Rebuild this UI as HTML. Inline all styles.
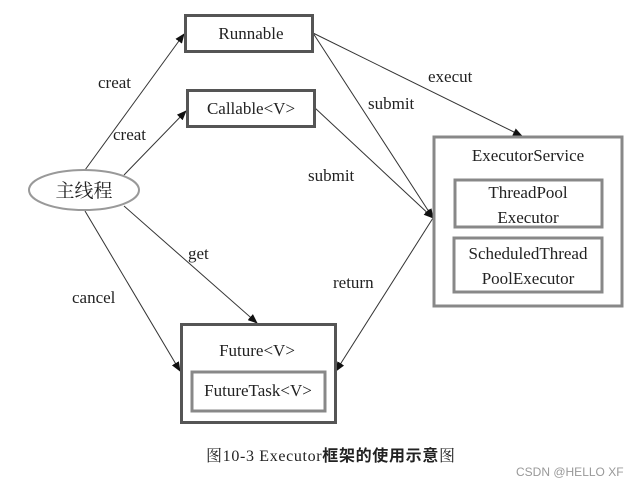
<!DOCTYPE html>
<html><head><meta charset="utf-8"><style>body{margin:0;background:#fff}</style></head><body>
<svg width="642" height="486" xmlns="http://www.w3.org/2000/svg" font-family="Liberation Serif, Noto Serif CJK SC, serif" font-size="17" fill="#222">
<defs><marker id="a" markerWidth="10" markerHeight="8" refX="9" refY="4" orient="auto" markerUnits="userSpaceOnUse"><path d="M0,0 L10,4 L0,8 z" fill="#111"/></marker></defs>
<g stroke="#333" stroke-width="1" fill="none" marker-end="url(#a)">
<line x1="85" y1="170" x2="184" y2="34"/>
<line x1="124" y1="175" x2="186" y2="111"/>
<line x1="313" y1="33" x2="433" y2="218"/>
<line x1="313" y1="33" x2="522" y2="136"/>
<line x1="315" y1="108" x2="433" y2="218"/>
<line x1="433" y1="218" x2="336" y2="371"/>
<line x1="85" y1="211" x2="180" y2="371"/>
<line x1="124" y1="206" x2="257" y2="323"/>
</g>
<g fill="#fff" stroke="#555">
<rect x="185.5" y="15.5" width="127" height="36" stroke-width="3"/>
<rect x="187.5" y="90.5" width="127" height="36" stroke-width="3"/>
<ellipse cx="84" cy="190" rx="55" ry="20" stroke="#999" stroke-width="2"/>
<rect x="434" y="137" width="188" height="169" stroke="#888" stroke-width="3"/>
<rect x="455" y="180" width="147" height="47" stroke="#888" stroke-width="3"/>
<rect x="454" y="238" width="148" height="54" stroke="#888" stroke-width="3"/>
<rect x="181.5" y="324.5" width="154" height="98" stroke-width="3"/>
<rect x="192" y="372" width="133" height="39" stroke="#888" stroke-width="3"/>
</g>
<g text-anchor="middle">
<text x="251" y="39">Runnable</text>
<text x="251" y="114">Callable&lt;V&gt;</text>
<text x="84" y="197" font-size="19">主线程</text>
<text x="528" y="161">ExecutorService</text>
<text x="528" y="198">ThreadPool</text>
<text x="528" y="223">Executor</text>
<text x="528" y="259">ScheduledThread</text>
<text x="528" y="284">PoolExecutor</text>
<text x="257" y="356">Future&lt;V&gt;</text>
<text x="258" y="396">FutureTask&lt;V&gt;</text>
</g>
<g>
<text x="98" y="88">creat</text>
<text x="113" y="140">creat</text>
<text x="428" y="82">execut</text>
<text x="368" y="109">submit</text>
<text x="308" y="181">submit</text>
<text x="188" y="259">get</text>
<text x="333" y="288">return</text>
<text x="72" y="303">cancel</text>
</g>
<text x="206" y="461" font-size="16" textLength="249">图10-3  Executor<tspan font-weight="bold" font-family="Noto Sans CJK SC, sans-serif">框架的使用示意</tspan>图</text>
<text x="516" y="476" font-size="12" fill="#999" font-family="Liberation Sans, sans-serif">CSDN @HELLO XF</text>
</svg>
</body></html>
